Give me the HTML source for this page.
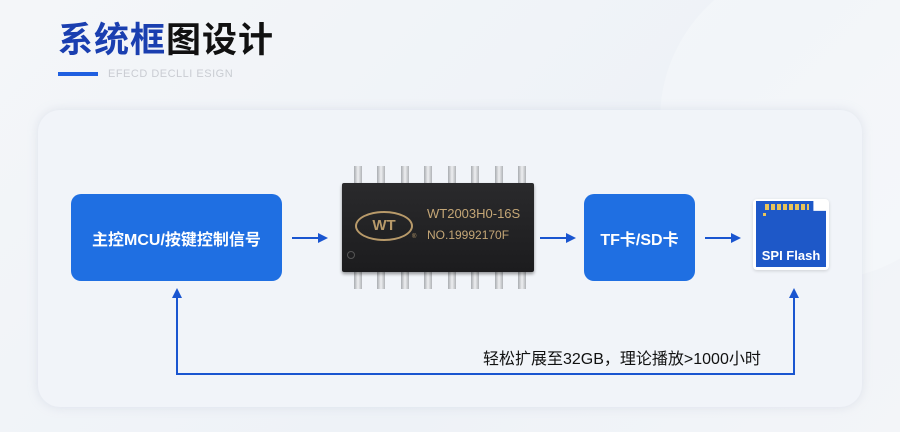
<!DOCTYPE html>
<html><head><meta charset="utf-8"><style>
*{margin:0;padding:0;box-sizing:border-box}
body{width:900px;height:432px;overflow:hidden;position:relative;background:linear-gradient(135deg,#f4f6f9,#eef2f7 60%,#f3f5f8);font-family:"Liberation Sans","Noto Sans CJK SC",sans-serif}
.abs{position:absolute}
.title{left:58px;top:16px;font-size:35px;font-weight:bold;letter-spacing:1px;font-family:"Noto Sans CJK SC",sans-serif;line-height:44px}
.panel{left:38px;top:110px;width:824px;height:297px;border-radius:22px;background:#f1f4f9;box-shadow:0 0 10px rgba(180,190,210,.35)}
.box{background:#1f6fe2;border-radius:10px;color:#fff;font-weight:bold;display:flex;align-items:center;justify-content:center;font-size:16px;font-family:"Liberation Sans","Noto Sans CJK SC",sans-serif}
.pin{position:absolute;width:8px;height:18px;background:linear-gradient(90deg,#a8abb0,#eeeff1,#b0b3b7)}
</style></head><body>
<div class="abs" style="right:-80px;top:-40px;width:320px;height:320px;border-radius:50%;background:rgba(255,255,255,.25)"></div>
<div class="abs title"><span style="color:#1a3fb0">系统框</span><span style="color:#111">图设计</span></div>
<div class="abs" style="left:58px;top:72px;width:40px;height:4px;background:#1f5fe0"></div>
<div class="abs" style="left:108px;top:68px;font-size:11px;color:#c9ccd2;letter-spacing:.5px">EFECD DECLLI ESIGN</div>
<div class="abs panel"></div>
<div class="abs box" style="left:71px;top:194px;width:211px;height:87px">主控MCU/按键控制信号</div>
<div class="abs box" style="left:584px;top:194px;width:111px;height:87px">TF卡/SD卡</div>
<!-- chip -->
<div class="pin" style="left:354px;top:166px"></div><div class="pin" style="left:377px;top:166px"></div><div class="pin" style="left:401px;top:166px"></div><div class="pin" style="left:424px;top:166px"></div><div class="pin" style="left:448px;top:166px"></div><div class="pin" style="left:471px;top:166px"></div><div class="pin" style="left:495px;top:166px"></div><div class="pin" style="left:518px;top:166px"></div>
<div class="pin" style="left:354px;top:271px"></div><div class="pin" style="left:377px;top:271px"></div><div class="pin" style="left:401px;top:271px"></div><div class="pin" style="left:424px;top:271px"></div><div class="pin" style="left:448px;top:271px"></div><div class="pin" style="left:471px;top:271px"></div><div class="pin" style="left:495px;top:271px"></div><div class="pin" style="left:518px;top:271px"></div>
<div class="abs" style="left:342px;top:183px;width:192px;height:89px;background:linear-gradient(180deg,#2a2a2c,#1c1c1e);border-radius:2px;box-shadow:0 2px 3px rgba(0,0,0,.4)"></div>
<div class="abs" style="left:355px;top:211px;width:58px;height:30px;border:2px solid #b89a6a;border-radius:50%;color:#b89a6a;font-weight:bold;font-size:15px;text-align:center;line-height:26px">WT</div>
<div class="abs" style="left:427px;top:206px;color:#c4a676;font-size:13px">WT2003H0-16S</div>
<div class="abs" style="left:427px;top:228px;color:#c4a676;font-size:12px">NO.19992170F</div>
<div class="abs" style="left:412px;top:234px;color:#b89a6a;font-size:6px">®</div>
<div class="abs" style="left:347px;top:251px;width:8px;height:8px;border:1px solid #555;border-radius:50%"></div>
<!-- SD card -->
<div class="abs" style="left:753px;top:199px;width:76px;height:71px;background:#fff;border-radius:4px;box-shadow:0 1px 3px rgba(0,0,0,.15)"></div>
<div class="abs" style="left:756px;top:201px;width:70px;height:66px;background:#1e58c8;clip-path:polygon(0 0,82% 0,82% 15%,100% 15%,100% 100%,0 100%)"></div>
<div class="abs" style="left:765px;top:204px;width:44px;height:6px;background:repeating-linear-gradient(90deg,#e8c45a 0 4px,transparent 4px 6px)"></div>
<div class="abs" style="left:763px;top:213px;width:3px;height:3px;background:#e8c45a"></div>
<div class="abs" style="left:756px;top:248px;width:70px;text-align:center;color:#fff;font-weight:bold;font-size:13px">SPI Flash</div>
<svg class="abs" style="left:0;top:0" width="900" height="432">
<g stroke="#1a55d0" stroke-width="2" fill="none">
<line x1="292" y1="238" x2="320" y2="238"/>
<line x1="540" y1="238" x2="568" y2="238"/>
<line x1="705" y1="238" x2="733" y2="238"/>
<polyline points="177,296 177,374 794,374 794,296"/>
</g>
<g fill="#1a55d0">
<polygon points="328,238 318,233 318,243"/>
<polygon points="576,238 566,233 566,243"/>
<polygon points="741,238 731,233 731,243"/>
<polygon points="177,288 172,298 182,298"/>
<polygon points="794,288 789,298 799,298"/>
</g>
<text x="483" y="364" font-size="16" fill="#111" font-family="Liberation Sans,Noto Sans CJK SC,sans-serif">轻松扩展至32GB，理论播放&gt;1000小时</text>
</svg>
</body></html>
